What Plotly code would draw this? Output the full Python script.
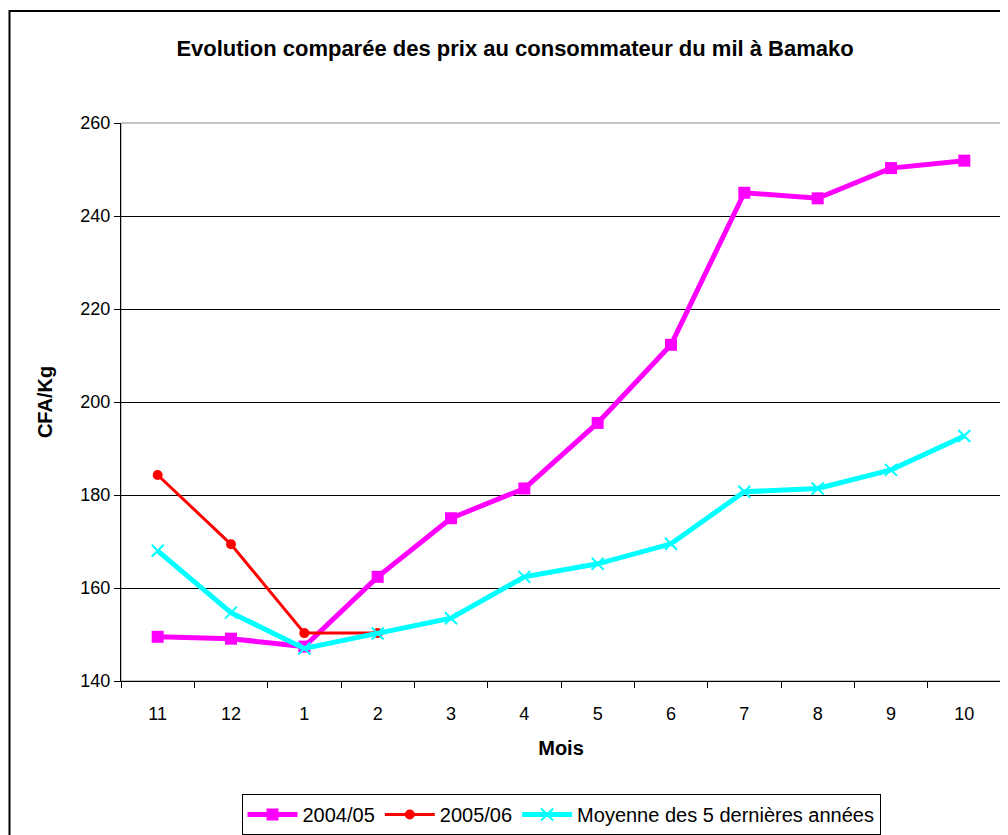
import plotly.graph_objects as go

months = ["11", "12", "1", "2", "3", "4", "5", "6", "7", "8", "9", "10"]
s2004 = [149.5, 149.1, 147.4, 162.4, 175.0, 181.4, 195.5, 212.3, 245.0, 243.8, 250.3, 251.9]
s2005 = [184.3, 169.4, 150.3, 150.3, None, None, None, None, None, None, None, None]
moy5 = [168.0, 154.7, 147.0, 150.2, 153.5, 162.4, 165.2, 169.5, 180.7, 181.4, 185.4, 192.7]

FONT = "Liberation Sans, Arial, sans-serif"

fig = go.Figure()
fig.add_trace(go.Scatter(
    x=months, y=s2004, name="2004/05", mode="lines+markers",
    line=dict(color="#FF00FF", width=5),
    marker=dict(symbol="square", size=12, color="#FF00FF"),
))
fig.add_trace(go.Scatter(
    x=months, y=s2005, name="2005/06", mode="lines+markers",
    line=dict(color="#FF0000", width=3),
    marker=dict(symbol="circle", size=10, color="#FF0000"),
))
fig.add_trace(go.Scatter(
    x=months, y=moy5, name="Moyenne des 5 dernières années", mode="lines+markers",
    line=dict(color="#00FFFF", width=5),
    marker=dict(symbol="x-thin", size=12, color="#00FFFF",
                line=dict(color="#00FFFF", width=2)),
))

fig.update_layout(
    width=1008, height=835,
    paper_bgcolor="white", plot_bgcolor="white",
    margin=dict(l=113, r=15, t=115, b=162, autoexpand=False),
    font=dict(family=FONT, color="black", size=16),
    title=dict(text="<b>Evolution comparée des prix au consommateur du mil à Bamako</b>",
               x=0.503, xanchor="center", y=1 - 40 / 835, yanchor="middle",
               font=dict(size=22, family=FONT, color="black")),
    showlegend=True,
    legend=dict(orientation="h", x=0.5, xanchor="center", y=-0.2025, yanchor="top",
                bordercolor="black", borderwidth=1, bgcolor="white",
                font=dict(size=20, family=FONT), itemwidth=50,
                tracegroupgap=0),
    xaxis=dict(
        type="category", categoryorder="array", categoryarray=months,
        showline=True, linecolor="black", linewidth=1,
        ticks="outside", ticklen=6, tickcolor="black", tickson="boundaries",
        ticklabelstandoff=16,
        showgrid=False, zeroline=False,
        tickfont=dict(size=18, family=FONT),
        title=dict(text="<b>Mois</b>", font=dict(size=20, family=FONT), standoff=18),
        range=[-0.5, 11.5],
    ),
    yaxis=dict(
        range=[140, 260], dtick=20, tick0=140,
        showline=True, linecolor="black", linewidth=1,
        ticks="outside", ticklen=6, tickcolor="black",
        showgrid=True, gridcolor="black", gridwidth=1, zeroline=False,
        tickfont=dict(size=18, family=FONT),
        title=dict(text="<b>CFA/Kg</b>", font=dict(size=20, family=FONT), standoff=22),
    ),
    shapes=[
        dict(type="rect", xref="paper", yref="paper", x0=0, x1=1, y0=0, y1=1,
             line=dict(color="#888888", width=1), layer="below"),
        dict(type="rect", xref="paper", yref="paper",
             x0=(9.5 - 121) / 880, x1=(1030 - 121) / 880,
             y0=(681 - 860) / 558, y1=(681 - 11) / 558,
             line=dict(color="black", width=2), layer="below"),
    ],
)

fig.write_html("out.html")
